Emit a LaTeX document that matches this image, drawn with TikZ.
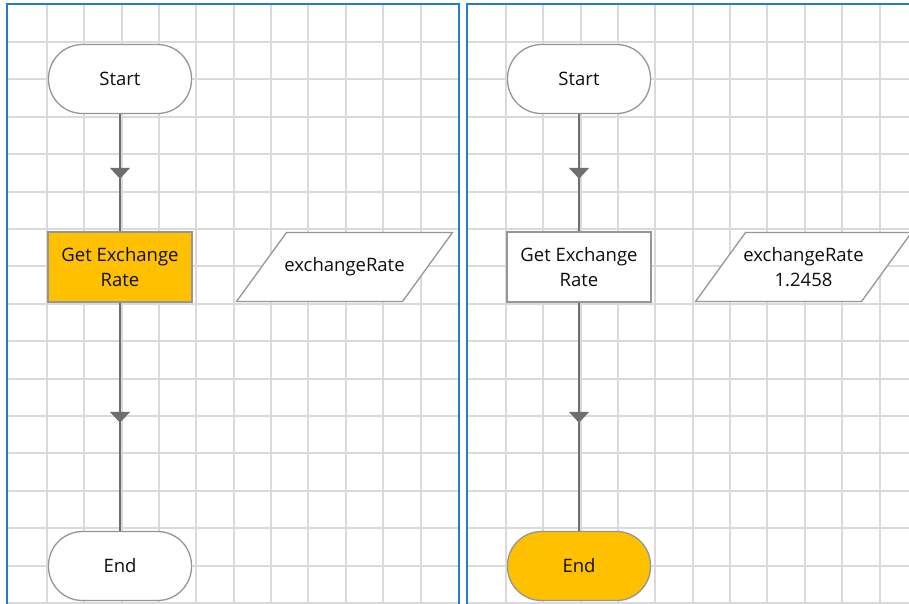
\documentclass[tikz,border=0pt]{standalone}
\usepackage{fontspec}
\setmainfont{Open Sans}
\usetikzlibrary{arrows.meta,decorations.markings,calc}
\definecolor{panelblue}{RGB}{36,124,204}
\definecolor{gridgray}{RGB}{218,218,218}
\definecolor{nodegray}{RGB}{150,150,150}
\definecolor{linegray}{RGB}{110,110,110}
\definecolor{amber}{RGB}{255,192,0}
\definecolor{txt}{RGB}{15,15,15}
\newcommand\myfont{\fontsize{18.5}{25}\selectfont}
\begin{document}
\begin{tikzpicture}[x=1pt,y=-1pt,
 panel/.style={draw=panelblue,line width=2pt},
 gridline/.style={draw=gridgray,line width=2pt},
 basebox/.style={draw=nodegray,line width=1.3pt,fill=white,inner sep=0pt,align=center,font=\myfont,text=txt},
 terminal/.style={basebox,rounded corners=34pt,minimum width=143pt,minimum height=69pt},
 process/.style={basebox,minimum width=144pt,minimum height=70pt},
 iotext/.style={inner sep=0pt,align=center,font=\myfont,text=txt},
 iobox/.style={draw=nodegray,line width=1.3pt,fill=white},
 active/.style={fill=amber},
 flow/.style={draw=linegray,line width=1.8pt,postaction={decorate},
   decoration={markings,mark=at position 0.5 with {\pgftransformxshift{6pt}\arrow{Triangle[width=20pt,length=11pt]}}}}
]
\useasboundingbox (0,0) rectangle (909,603);
\fill[white] (0,0) rectangle (909,603);
% ---------- left panel ----------
\begin{scope}
  \clip (7,4) rectangle (459,603);
  \foreach \i in {0,...,10} \draw[gridline] (47+37.35*\i,0) -- (47+37.35*\i,610);
  \foreach \j in {0,...,15} \draw[gridline] (0,42+37.4*\j) -- (470,42+37.4*\j);
\end{scope}
\draw[panel] (6.5,620) -- (6.5,4) -- (459,4) -- (459,620);
\node[terminal] (startL) at (120,79) {Start};
\node[process,active] (procL) at (120,267) {Get Exchange\\Rate};
\node[terminal] (endL) at (120,566) {End};
\coordinate (ioLc) at (344.5,267);
\draw[iobox] ($(ioLc)+(-108,34.5)$) -- ($(ioLc)+(58,34.5)$) -- ($(ioLc)+(108,-34.5)$) -- ($(ioLc)+(-58,-34.5)$) -- cycle;
\node[iotext] (ioL) at (ioLc) {exchangeRate};
\draw[flow] (startL.south) -- (procL.north);
\draw[flow] (procL.south) -- (endL.north);
% ---------- right panel ----------
\begin{scope}
  \clip (466,4) rectangle (918,603);
  \foreach \i in {0,...,11} \draw[gridline] (506+37.35*\i,0) -- (506+37.35*\i,610);
  \foreach \j in {0,...,15} \draw[gridline] (459,42+37.4*\j) -- (930,42+37.4*\j);
\end{scope}
\draw[panel] (466.5,620) -- (466.5,4) -- (918,4);
\node[terminal] (startR) at (579,79) {Start};
\node[process] (procR) at (579,267) {Get Exchange\\Rate};
\node[terminal,active] (endR) at (579,566) {End};
\coordinate (ioRc) at (803.5,267);
\draw[iobox] ($(ioRc)+(-108,34.5)$) -- ($(ioRc)+(58,34.5)$) -- ($(ioRc)+(108,-34.5)$) -- ($(ioRc)+(-58,-34.5)$) -- cycle;
\node[iotext] (ioR) at (ioRc) {exchangeRate\\1.2458};
\draw[flow] (startR.south) -- (procR.north);
\draw[flow] (procR.south) -- (endR.north);
\end{tikzpicture}
\end{document}
